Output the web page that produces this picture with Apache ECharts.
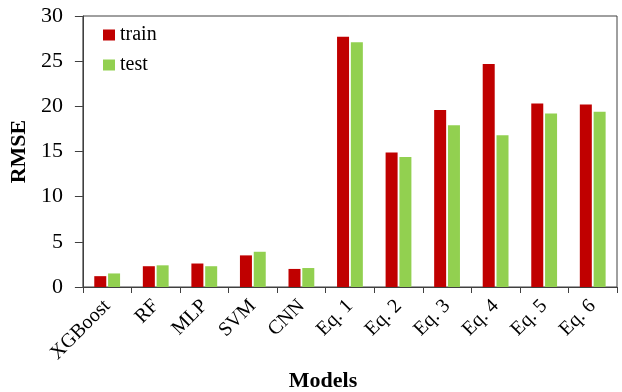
<!DOCTYPE html>
<html>
<head>
<meta charset="utf-8">
<script src="https://cdn.jsdelivr.net/npm/echarts@6/dist/echarts.min.js"></script>
<style>
  html, body { margin: 0; padding: 0; background: #fff; }
  #chart { width: 622px; height: 392px; }
</style>
</head>
<body>
<div id="chart"></div>
<script>
// RMSE of each model on the training and test sets
const models = ['XGBoost', 'RF', 'MLP', 'SVM', 'CNN', 'Eq. 1', 'Eq. 2', 'Eq. 3', 'Eq. 4', 'Eq. 5', 'Eq. 6'];
const trainRmse = [1.2, 2.3, 2.6, 3.5, 2.0, 27.7, 14.9, 19.6, 24.7, 20.3, 20.2];
const testRmse = [1.5, 2.4, 2.3, 3.9, 2.1, 27.1, 14.4, 17.9, 16.8, 19.2, 19.4];
const yTicks = [0, 5, 10, 15, 20, 25, 30];

const serif = '"Liberation Serif", "Times New Roman", serif';
const axisColor = '#404040';

const chart = echarts.init(document.getElementById('chart'), null, { renderer: 'canvas' });
chart.setOption({
  animation: false,
  backgroundColor: '#fff',
  textStyle: { fontFamily: serif },
  title: {
    text: 'Models',
    left: 318,
    top: 365,
    textAlign: 'center',
    textStyle: { fontFamily: serif, fontSize: 22, fontWeight: 'bold', color: '#000' }
  },
  legend: {
    orient: 'vertical',
    left: 98,
    top: 20,
    itemWidth: 12,
    itemHeight: 11,
    itemGap: 10,
    icon: 'rect',
    textStyle: { fontFamily: serif, fontSize: 20, color: '#000' },
    data: ['train', 'test']
  },
  grid: {
    left: 82,
    right: 5,
    top: 16,
    bottom: 105,
    show: true,
    borderColor: axisColor,
    borderWidth: 1,
    backgroundColor: 'transparent'
  },
  xAxis: {
    type: 'category',
    data: models,
    axisLine: { lineStyle: { color: axisColor, width: 1 } },
    axisTick: { show: true, length: 6, lineStyle: { color: axisColor } },
    axisLabel: {
      rotate: 45,
      margin: 16,
      interval: 0,
      fontFamily: serif,
      fontSize: 20,
      color: '#000'
    }
  },
  yAxis: {
    type: 'value',
    min: yTicks[0],
    max: yTicks[yTicks.length - 1],
    interval: yTicks[1] - yTicks[0],
    name: 'RMSE',
    nameLocation: 'middle',
    nameGap: 46,
    nameTextStyle: { fontFamily: serif, fontSize: 22, fontWeight: 'bold', color: '#000' },
    axisLine: { show: true, lineStyle: { color: axisColor, width: 1 } },
    axisTick: { show: true, length: 8, lineStyle: { color: axisColor } },
    splitLine: { show: false },
    axisLabel: { margin: 20, fontFamily: serif, fontSize: 22, color: '#000' }
  },
  series: [
    {
      name: 'train',
      type: 'bar',
      data: trainRmse,
      barWidth: 12,
      barGap: '15%',
      itemStyle: { color: '#C00000' }
    },
    {
      name: 'test',
      type: 'bar',
      data: testRmse,
      barWidth: 12,
      itemStyle: { color: '#92D050' }
    }
  ]
});
</script>
</body>
</html>
